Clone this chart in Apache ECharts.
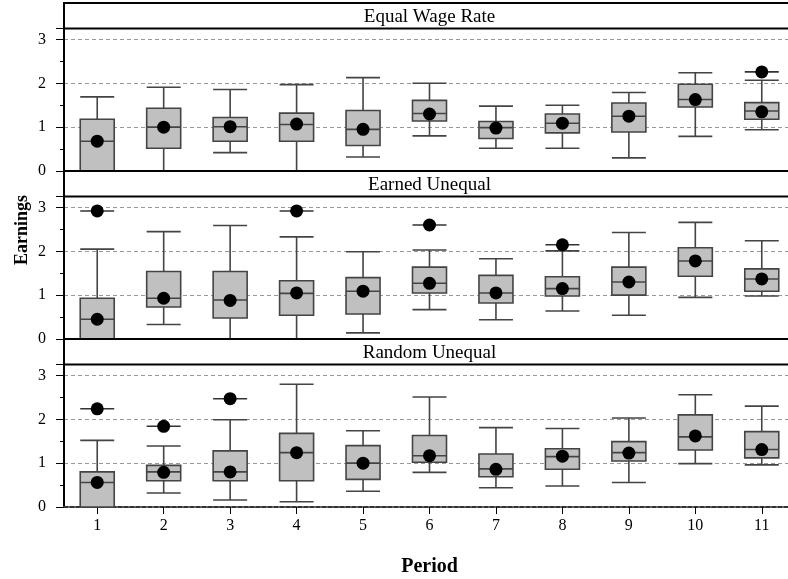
<!DOCTYPE html>
<html>
<head>
<meta charset="utf-8">
<script src="https://cdn.jsdelivr.net/npm/echarts@6/dist/echarts.min.js"></script>
<style>
html,body{margin:0;padding:0;background:#fff;}
#chart{width:788px;height:579px;}
</style>
</head>
<body>
<div id="chart"></div>
<script>
// ---- data ----
const categories = ['1','2','3','4','5','6','7','8','9','10','11'];
const panelTitles = ['Equal Wage Rate', 'Earned Unequal', 'Random Unequal'];
const yTickLabels = [0, 1, 2, 3];

// [min, Q1, median, Q3, max]
const equalBoxes = [
  [0, 0, 0.68, 1.18, 1.69],
  [0, 0.52, 1.00, 1.43, 1.91],
  [0.42, 0.68, 1.01, 1.22, 1.86],
  [0, 0.68, 1.06, 1.32, 1.97],
  [0.32, 0.58, 0.95, 1.38, 2.13],
  [0.80, 1.14, 1.31, 1.61, 2.00],
  [0.52, 0.74, 0.99, 1.13, 1.48],
  [0.52, 0.87, 1.09, 1.30, 1.50],
  [0.30, 0.89, 1.25, 1.55, 1.79],
  [0.79, 1.46, 1.63, 1.98, 2.24],
  [0.94, 1.18, 1.37, 1.56, 2.07]
];
const equalMeans = [0.68, 1.00, 1.01, 1.07, 0.95, 1.30, 0.98, 1.09, 1.25, 1.63, 1.35];
const equalOutliers = [['11', 2.26]];

const earnedBoxes = [
  [0, 0, 0.45, 0.93, 2.05],
  [0.33, 0.73, 0.93, 1.54, 2.45],
  [0, 0.48, 0.89, 1.54, 2.59],
  [0, 0.54, 1.04, 1.33, 2.33],
  [0.14, 0.57, 1.09, 1.40, 1.99],
  [0.67, 1.05, 1.27, 1.64, 2.03],
  [0.44, 0.82, 1.05, 1.45, 1.83],
  [0.64, 0.98, 1.15, 1.42, 2.01],
  [0.54, 1.00, 1.30, 1.64, 2.43],
  [0.95, 1.43, 1.78, 2.08, 2.66],
  [0.98, 1.09, 1.37, 1.60, 2.24]
];
const earnedMeans = [0.45, 0.93, 0.88, 1.05, 1.09, 1.27, 1.05, 1.15, 1.30, 1.78, 1.37];
const earnedOutliers = [['1', 2.92], ['4', 2.92], ['6', 2.60], ['8', 2.15]];

const randomBoxes = [
  [0, 0, 0.56, 0.80, 1.52],
  [0.32, 0.60, 0.80, 0.95, 1.39],
  [0.16, 0.60, 0.80, 1.28, 1.99],
  [0.12, 0.60, 1.24, 1.68, 2.80],
  [0.36, 0.63, 1.00, 1.40, 1.74],
  [0.79, 1.02, 1.17, 1.63, 2.51],
  [0.44, 0.69, 0.87, 1.21, 1.81],
  [0.48, 0.86, 1.15, 1.33, 1.79],
  [0.56, 1.05, 1.24, 1.49, 2.03],
  [0.99, 1.30, 1.60, 2.10, 2.56],
  [0.96, 1.12, 1.31, 1.72, 2.30]
];
const randomMeans = [0.56, 0.79, 0.80, 1.24, 1.00, 1.17, 0.86, 1.16, 1.23, 1.62, 1.31];
const randomOutliers = [['1', 2.24], ['2', 1.84], ['3', 2.47]];

// ---- layout ----
const FONT = '"Liberation Serif", "DejaVu Serif", serif';
const L = 64, PLOT_W = 731;
const stripTops = [3, 171, 339];
const STRIP_H = 25.5, PLOT_H = 142.5;
const BOX_W = 34;

const panels = [
  {boxes: equalBoxes, means: equalMeans, outliers: equalOutliers},
  {boxes: earnedBoxes, means: earnedMeans, outliers: earnedOutliers},
  {boxes: randomBoxes, means: randomMeans, outliers: randomOutliers}
];

const grids = [], xAxes = [], yAxes = [], series = [], graphics = [];
panels.forEach((p, i) => {
  const last = i === panels.length - 1;
  grids.push({left: L, top: stripTops[i] + STRIP_H, width: PLOT_W, height: PLOT_H,
    containLabel: false, outerBoundsMode: 'none'});
  xAxes.push({
    type: 'category', gridIndex: i, data: categories,
    boundaryGap: true,
    axisLine: last ? {show: true, lineStyle: {color: '#333', width: 2, type: [4, 2]}} : {show: false},
    axisTick: last ? {show: true, alignWithLabel: true, length: 7, lineStyle: {color: '#000'}} : {show: false},
    axisLabel: last ? {show: true, margin: 11, color: '#000', fontFamily: FONT, fontSize: 16} : {show: false},
    splitLine: {show: false},
    name: last ? 'Period' : '',
    nameLocation: 'middle', nameGap: 50,
    nameTextStyle: {fontFamily: FONT, fontSize: 20, fontWeight: 'bold', color: '#000'}
  });
  if (last) {
    xAxes.push({
      type: 'category', gridIndex: i, data: categories, boundaryGap: true,
      axisLine: {show: false}, axisLabel: {show: false},
      axisTick: {show: true, alignWithLabel: false, length: 5, lineStyle: {color: '#000'}},
      splitLine: {show: false}
    });
  }
  yAxes.push({
    type: 'value', gridIndex: i, min: 0, max: 3.25, interval: 1,
    axisLine: {show: true, lineStyle: {color: '#000', width: 2}},
    axisTick: {show: true, length: 8, lineStyle: {color: '#000'}},
    minorTick: {show: true, splitNumber: 2, length: 4, lineStyle: {color: '#000'}},
    axisLabel: {
      color: '#000', fontFamily: FONT, fontSize: 16, margin: 18,
      showMaxLabel: false,
      formatter: v => (yTickLabels.indexOf(v) >= 0 ? String(v) : '')
    },
    splitLine: {show: true, lineStyle: {color: '#999', type: [4, 3], width: 1}}
  });
  const xi = last ? 2 : i;
  series.push({
    type: 'boxplot', xAxisIndex: xi, yAxisIndex: i,
    data: p.boxes, boxWidth: [BOX_W, BOX_W],
    itemStyle: {color: '#c0c0c0', borderColor: '#444', borderWidth: 1.6},
    emphasis: {disabled: true}, z: 2
  });
  series.push({
    type: 'scatter', xAxisIndex: xi, yAxisIndex: i,
    data: p.outliers, symbol: 'rect', symbolSize: [BOX_W, 1.6],
    itemStyle: {color: '#333', opacity: 1}, silent: true, z: 3
  });
  series.push({
    type: 'scatter', xAxisIndex: xi, yAxisIndex: i,
    data: p.outliers, symbol: 'circle', symbolSize: 13,
    itemStyle: {color: '#000', opacity: 1}, silent: true, z: 4
  });
  series.push({
    type: 'scatter', xAxisIndex: xi, yAxisIndex: i,
    data: p.means.map((m, k) => [categories[k], m]), symbol: 'circle', symbolSize: 13,
    itemStyle: {color: '#000', opacity: 1}, silent: true, z: 4
  });
  graphics.push({
    type: 'rect', z: 10, silent: true,
    shape: {x: L, y: stripTops[i], width: PLOT_W, height: STRIP_H},
    style: {fill: '#fff', stroke: '#000', lineWidth: 2}
  });
  graphics.push({
    type: 'text', z: 11, silent: true,
    x: L + PLOT_W / 2, y: stripTops[i] + STRIP_H / 2 + 1,
    style: {text: panelTitles[i], fill: '#000', font: '19px ' + FONT, textAlign: 'center', textVerticalAlign: 'middle'}
  });
});
graphics.push({
  type: 'text', silent: true, x: 22, y: 230, rotation: Math.PI / 2,
  style: {text: 'Earnings', fill: '#000', font: 'bold 18px ' + FONT, textAlign: 'center', textVerticalAlign: 'middle'}
});

const chart = echarts.init(document.getElementById('chart'), null, {renderer: 'canvas'});
chart.setOption({
  animation: false,
  backgroundColor: '#fff',
  grid: grids, xAxis: xAxes, yAxis: yAxes, series: series, graphic: graphics
});
</script>
</body>
</html>
